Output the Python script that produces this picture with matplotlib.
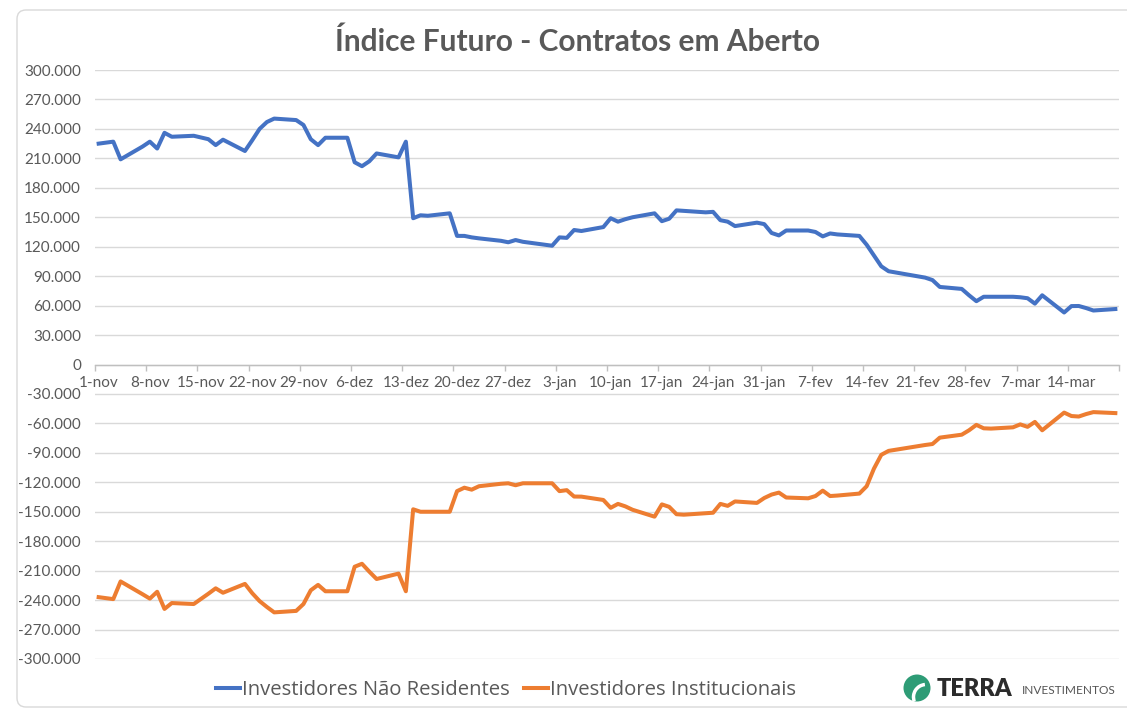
import matplotlib
matplotlib.use("Agg")
import matplotlib.pyplot as plt
import numpy as np
import pandas as pd
from matplotlib.patches import FancyBboxPatch, Circle, Arc
from matplotlib.transforms import IdentityTransform
from matplotlib.ticker import FuncFormatter, FixedLocator
from matplotlib.lines import Line2D


BLUE = '#4472C4'
ORANGE = '#ED7D31'
GRID_COLOR = '#d9d9d9'
AXIS_COLOR = '#bfbfbf'
TEXT_COLOR = '#595959'
FONT = 'Lato'

START = '2022-11-01'
END = '2023-03-20'
HOLIDAYS = ['2022-11-02', '2022-11-15', '2022-12-30', '2023-02-20', '2023-02-21']

# open contracts, in thousands, one value per trading day
nao_residentes = [
    225, 227, 209, 222, 227, 220, 236, 232, 233, 229.5, 223.5, 229, 217.5, 228.5, 240, 247, 250.5, 249, 244, 229.5,
    223.5, 231, 231, 206, 202, 207, 215, 211, 227, 149, 152, 151.5, 154, 131, 131, 129.5, 128.5, 126, 124.5, 126.8, 125,
    121, 129.5, 129, 137, 136, 140, 149, 145.5, 148, 150, 154, 146, 148.5, 157, 156.5, 155, 155.5, 147, 145.5, 141, 144.5, 143,
    134, 131.5, 136.5, 136.5, 135, 130.5, 133.5, 132.5, 131, 122, 111, 100, 95, 88.5, 86, 79, 77, 70.5,
    64.5, 69, 69, 69, 68.5, 67.5, 62, 70.5, 53, 59.5, 59.6, 57.5, 55, 56.5,
]
institucionais = [
    -237, -239, -221, -234, -238.5, -231.5, -249, -243, -244, -233.5, -228, -232.5, -223.5, -233, -241, -247, -252.5, -251, -244, -230,
    -224.5, -231, -231, -206, -203, -211, -218.5, -213, -231, -147.5, -150, -150, -150, -129, -125.5, -127.5, -124, -121.5, -121, -123, -121,
    -121, -129, -128, -134.5, -134.6, -138, -146, -142, -144.5, -148, -155, -142.5, -145, -152.5, -153, -151.5, -151, -142, -144, -139.5, -141, -136,
    -132.5, -130.5, -135.5, -136.3, -134, -128.5, -134, -133.5, -131.5, -124, -106, -92, -88, -82, -81, -74.5, -71.5, -67,
    -61.5, -65, -65.3, -64, -61, -63.5, -58.5, -67, -49, -52.5, -53, -50.5, -48.5, -49.5,
]

tick_labels = ['1-nov', '8-nov', '15-nov', '22-nov', '29-nov', '6-dez', '13-dez', '20-dez', '27-dez',
               '3-jan', '10-jan', '17-jan', '24-jan', '31-jan', '7-fev', '14-fev', '21-fev', '28-fev',
               '7-mar', '14-mar']

series = [
    ('Investidores Não Residentes', BLUE, nao_residentes),
    ('Investidores Institucionais', ORANGE, institucionais),
]


def thousands(value, _pos):
    return f"{value:,.0f}".replace(',', '.')


dates = pd.bdate_range(START, END, freq='C', holidays=HOLIDAYS)
x = (dates - pd.Timestamp(START)).days.to_numpy()
total_days = (pd.Timestamp(END) - pd.Timestamp(START)).days + 1

fig = plt.figure(figsize=(11.27, 7.10), dpi=100)
fig.patch.set_facecolor('white')

frame = FancyBboxPatch((17, 3), 1140, 697, boxstyle='round,pad=0,rounding_size=9',
                       transform=IdentityTransform(), facecolor='white',
                       edgecolor='#d9d9d9', linewidth=1.0, zorder=0)
fig.add_artist(frame)

ax = fig.add_axes([95 / 1127, 1 - 659 / 710, (1119 - 95) / 1127, (659 - 70) / 710])
ax.set_facecolor('none')

for label, color, values in series:
    ax.plot(x, np.array(values) * 1000, color=color, linewidth=2.9,
            solid_joinstyle='round', label=label, zorder=3)

ax.set_xlim(-0.5, total_days - 0.5)
ax.set_ylim(-300000, 300000)
ax.yaxis.set_major_locator(FixedLocator(np.arange(-300000, 300001, 30000)))
ax.yaxis.set_major_formatter(FuncFormatter(thousands))
ax.grid(True, axis='y', color=GRID_COLOR, linewidth=1.0, zorder=0)
ax.grid(False, axis='x')

for side in ('top', 'right', 'left'):
    ax.spines[side].set_visible(False)
ax.spines['bottom'].set_position(('data', 0))
ax.spines['bottom'].set_color(AXIS_COLOR)
ax.spines['bottom'].set_linewidth(1.0)
ax.spines['bottom'].set_zorder(2)

ax.set_xticks(np.arange(-0.5, total_days, 7))
ax.set_xticklabels([])
ax.tick_params(axis='x', which='major', length=4, width=1, color=AXIS_COLOR, direction='out')
ax.set_xticks(np.arange(0, 7 * len(tick_labels), 7), minor=True)
ax.set_xticklabels(tick_labels, minor=True)
ax.tick_params(axis='x', which='minor', length=0, pad=8, labelsize=11, labelcolor=TEXT_COLOR)
ax.tick_params(axis='y', length=0, pad=10, labelsize=11, labelcolor=TEXT_COLOR)
for lbl in ax.get_xticklabels(minor=True) + ax.get_yticklabels():
    lbl.set_fontfamily(FONT)

fig.text(0.5124, 0.9408, 'Índice Futuro - Contratos em Aberto', ha='center', va='center',
         fontsize=21.5, fontweight='bold', color=TEXT_COLOR, fontfamily=FONT)

handles = [Line2D([], [], color=color, linewidth=2.9) for _, color, _ in series]
legend = fig.legend(handles, [label for label, _, _ in series], loc='center',
                    bbox_to_anchor=(506 / 1127, 1 - 690 / 710), ncol=2, frameon=False,
                    prop={'family': 'Open Sans', 'size': 14.6}, handlelength=1.2,
                    handletextpad=0.1, columnspacing=0.7)
for text in legend.get_texts():
    text.set_color(TEXT_COLOR)

# Terra Investimentos logo
fig.add_artist(Circle((917, 22), 13.5, transform=IdentityTransform(), facecolor='#2e9c76',
                      edgecolor='none', zorder=5))
fig.add_artist(Arc((926, 13), 25, 25, theta1=95, theta2=200, transform=IdentityTransform(),
                   color='white', linewidth=2.5, zorder=6))
fig.text(937 / 1127, 1 - 689 / 710, 'TERRA', ha='left', va='center', fontsize=17,
         fontweight='heavy', color='#2b2b2b', fontfamily='Lato')
fig.text(1022 / 1127, 1 - 691 / 710, 'INVESTIMENTOS', ha='left', va='center', fontsize=8.6,
         color='#555555', fontfamily='Lato')

fig.savefig('out.png', dpi=100, facecolor='white')
